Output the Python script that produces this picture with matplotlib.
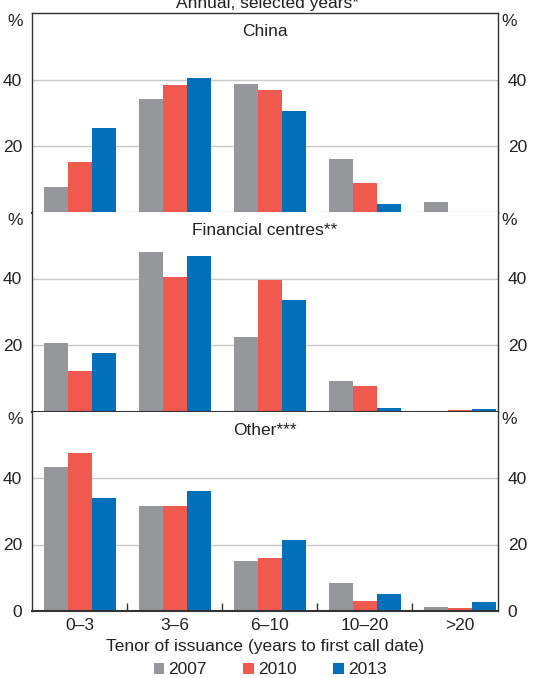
import numpy as np
import matplotlib
matplotlib.use("Agg")
import matplotlib.pyplot as plt
from matplotlib.patches import Patch

plt.rcParams['font.family'] = ['Liberation Sans', 'DejaVu Sans']

# Share of issuance by tenor bucket, per region and year (%)
tenors = ['0–3', '3–6', '6–10', '10–20', '>20']
years = ['2007', '2010', '2013']
colors = ['#96979b', '#ef594e', '#0070ba']

china_2007 = [7.7, 34.0, 38.5, 16.2, 3.2]
china_2010 = [15.3, 38.2, 36.7, 8.9, 0.2]
china_2013 = [25.5, 40.6, 30.4, 2.6, 0.2]

fin_2007 = [20.7, 48.1, 22.5, 9.2, 0.0]
fin_2010 = [12.2, 40.5, 39.6, 7.7, 0.5]
fin_2013 = [17.7, 46.9, 33.6, 1.1, 0.8]

other_2007 = [43.4, 31.7, 15.1, 8.5, 1.3]
other_2010 = [47.6, 31.7, 16.0, 3.1, 1.0]
other_2013 = [34.1, 36.2, 21.5, 5.2, 2.8]

panels = [
    ('China', [china_2007, china_2010, china_2013]),
    ('Financial centres**', [fin_2007, fin_2010, fin_2013]),
    ('Other***', [other_2007, other_2010, other_2013]),
]

W, H = 533, 678
fig = plt.figure(figsize=(W / 100, H / 100), dpi=100)

left, width = 32 / W, 466 / W
tops = [13, 212, 411.5]
ph = 199.5
edge = '#333333'
txt = '#222222'
fs = 12.5

x = np.arange(len(tenors))
bw = 0.2526

for k, ((name, series), top) in enumerate(zip(panels, tops)):
    ax = fig.add_axes([left, 1 - (top + ph) / H, width, ph / H])
    for i, vals in enumerate(series):
        ax.bar(x + (i - 1) * bw, vals, bw, color=colors[i], zorder=2)
    for g in (20, 40):
        ax.axhline(g, color='#c8c8c8', lw=1.0, zorder=1)
    ax.set_yticks([0, 20, 40] if k == 2 else [20, 40])
    ax.tick_params(axis='y', length=0, labelsize=fs, labelcolor=txt,
                   labelleft=True, labelright=True, pad=7)
    for s in ax.spines.values():
        s.set_color(edge)
        s.set_linewidth(1.0)
    ax.spines['bottom'].set_linewidth(1.5)
    ax.spines['top'].set_visible(k == 0)
    ax.text(-0.02, 57.5, '%', transform=ax.get_yaxis_transform(),
            ha='right', va='center', fontsize=fs, color=txt)
    ax.text(1.008, 57.5, '%', transform=ax.get_yaxis_transform(),
            ha='left', va='center', fontsize=fs, color=txt)
    ax.text(0.5, 54.3, name, transform=ax.get_yaxis_transform(),
            ha='center', va='center', fontsize=fs, color=txt)
    if k == 2:
        # inward separators between tenor groups
        ax.set_xticks(x[:-1] + 0.5)
        ax.tick_params(axis='x', direction='in', length=6, width=1.0,
                       color=edge, labelbottom=False)
        for xi, lab in zip(x, tenors):
            ax.text(xi, -2.0, lab, ha='center', va='top',
                    fontsize=fs, color=txt, clip_on=False)
    else:
        ax.set_xticks([])
    ax.set_xlim(-0.505, 4.405)
    ax.set_ylim(0, 60)

fig.text(265 / W, 1 - 647 / H, 'Tenor of issuance (years to first call date)',
         ha='center', va='center', fontsize=fs, color=txt)
fig.text(267 / W, 1 - 8 / H, 'Annual, selected years*',
         ha='center', va='baseline', fontsize=fs, color=txt)

handles = [Patch(facecolor=c, edgecolor='none') for c in colors]
fig.legend(handles, years, loc='center', bbox_to_anchor=(270 / W, 1 - 670 / H),
           ncol=3, frameon=False, fontsize=fs, handlelength=0.6,
           handleheight=0.6, handletextpad=0.25, columnspacing=2.1,
           labelcolor=txt)

fig.savefig('out.png', dpi=100)
